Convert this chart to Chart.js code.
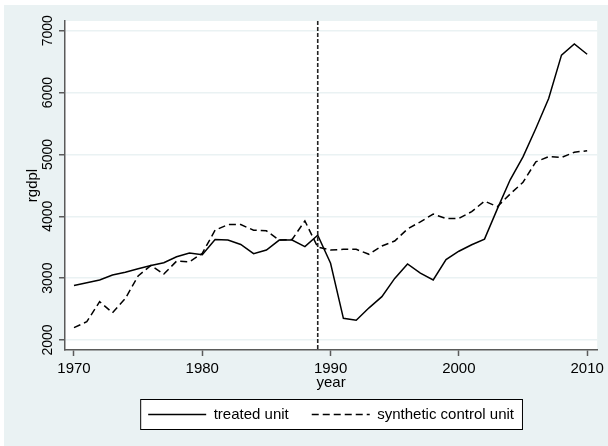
<!DOCTYPE html>
<html>
<head>
<meta charset="utf-8">
<script src="https://cdn.jsdelivr.net/npm/chart.js@4/dist/chart.umd.min.js"></script>
<style>
  html, body { margin: 0; padding: 0; background: #fff; }
  #wrap { width: 608px; height: 446px; }
</style>
</head>
<body>
<div id="wrap"><canvas id="c" width="608" height="446"></canvas></div>
<script>
// data
const years = [];
for (let y = 1970; y <= 2010; y++) years.push(y);

const treated = [2880, 2925, 2970, 3050, 3095, 3150, 3205, 3250, 3345, 3405,
  3380, 3625, 3615, 3545, 3395, 3455, 3615, 3615, 3510, 3695,
  3240, 2350, 2320, 2520, 2700, 2995, 3230, 3080, 2970, 3300,
  3435, 3540, 3630, 4120, 4590, 4960, 5420, 5905, 6605, 6785,
  6620];

const synthetic = [2200, 2295, 2620, 2440, 2670, 3035, 3205, 3065, 3275, 3265,
  3400, 3775, 3865, 3865, 3775, 3765, 3615, 3625, 3925, 3500,
  3455, 3465, 3465, 3385, 3520, 3600, 3795, 3910, 4035, 3965,
  3965, 4075, 4245, 4155, 4360, 4550, 4880, 4965, 4950, 5035,
  5060];

const xTicks = [1970, 1980, 1990, 2000, 2010];
const yTicks = [2000, 3000, 4000, 5000, 6000, 7000];
const treatYear = 1989;

const bg = '#eaf2f3';
const axisCol = '#5a5a5a';

Chart.defaults.font.family = '"Liberation Sans", Arial, sans-serif';
Chart.defaults.color = '#000';

// background, white plot region and the legend frame
const backdrop = {
  id: 'backdrop',
  beforeDraw(chart) {
    const ctx = chart.ctx, a = chart.chartArea;
    ctx.save();
    ctx.fillStyle = '#fff';
    ctx.fillRect(0, 0, chart.width, chart.height);
    ctx.fillStyle = bg;
    ctx.fillRect(4, 5, chart.width - 4, chart.height - 5);
    ctx.fillStyle = '#fff';
    ctx.fillRect(a.left, a.top, a.right - a.left, a.bottom - a.top);
    const hb = chart.legend.legendHitBoxes;
    if (hb && hb.length) {
      const last = hb[hb.length - 1];
      const l = hb[0].left - 8, r = last.left + last.width + 8;
      const t = hb[0].top - 8, b = hb[0].top + hb[0].height + 7;
      ctx.fillRect(l, t, r - l, b - t);
      ctx.strokeStyle = '#000';
      ctx.lineWidth = 1;
      ctx.strokeRect(l + 0.5, t + 0.5, r - l, b - t);
    }
    ctx.restore();
  }
};

// dashed vertical line at the treatment year
const treatLine = {
  id: 'treatLine',
  afterDatasetsDraw(chart) {
    const ctx = chart.ctx, a = chart.chartArea;
    const x = chart.scales.x.getPixelForValue(treatYear);
    ctx.save();
    ctx.strokeStyle = '#222';
    ctx.lineWidth = 1.6;
    ctx.setLineDash([4, 2]);
    ctx.beginPath();
    ctx.moveTo(x, a.top);
    ctx.lineTo(x, a.bottom);
    ctx.stroke();
    ctx.restore();
  }
};

new Chart(document.getElementById('c'), {
  type: 'line',
  data: {
    datasets: [
      {
        label: 'treated unit',
        data: years.map((yr, i) => ({ x: yr, y: treated[i] })),
        borderColor: '#000',
        borderWidth: 1.5,
        pointRadius: 0,
        tension: 0
      },
      {
        label: 'synthetic control unit',
        data: years.map((yr, i) => ({ x: yr, y: synthetic[i] })),
        borderColor: '#000',
        borderWidth: 1.5,
        borderDash: [7, 4],
        pointRadius: 0,
        tension: 0
      }
    ]
  },
  options: {
    responsive: false,
    animation: false,
    layout: { padding: { top: 21, right: 9, left: 0, bottom: 14 } },
    plugins: {
      tooltip: { enabled: false },
      legend: {
        position: 'bottom',
        fullSize: false,
        labels: {
          usePointStyle: true,
          pointStyle: 'line',
          pointStyleWidth: 58,
          padding: 23,
          color: '#000',
          font: { size: 15 },
          generateLabels: chart => chart.data.datasets.map((ds, i) => ({
            text: ds.label,
            datasetIndex: i,
            fillStyle: ds.borderColor,
            strokeStyle: ds.borderColor,
            lineWidth: ds.borderWidth,
            lineDash: ds.borderDash || [],
            pointStyle: 'line',
            hidden: false,
            fontColor: '#000'
          }))
        }
      }
    },
    scales: {
      x: {
        type: 'linear',
        min: 1969.3,
        max: 2010.78,
        afterBuildTicks: s => { s.ticks = xTicks.map(v => ({ value: v })); },
        afterFit: s => { s.height = 34; },
        ticks: { callback: v => String(v), font: { size: 15 }, padding: 4, color: '#000', maxRotation: 0 },
        grid: { drawOnChartArea: false, drawTicks: true, tickLength: 6, tickColor: axisCol, tickWidth: 1.5 },
        border: { color: axisCol, width: 1.5 },
        title: { display: true, text: 'year', font: { size: 15 }, color: '#000', padding: { top: 0, bottom: -8 } }
      },
      y: {
        min: 1838,
        max: 7157,
        afterBuildTicks: s => { s.ticks = yTicks.map(v => ({ value: v })); },
        afterFit: s => { s.width = 65; },
        ticks: { callback: v => String(v), font: { size: 14 }, padding: -5, color: '#000', minRotation: 90, maxRotation: 90, crossAlign: 'center' },
        grid: { color: bg, lineWidth: 1.5, drawTicks: true, tickLength: 6, tickColor: axisCol, tickWidth: 1.5 },
        border: { color: axisCol, width: 1.5 },
        title: { display: true, text: 'rgdpl', font: { size: 15 }, color: '#000', padding: { top: 24, bottom: 0 } }
      }
    }
  },
  plugins: [backdrop, treatLine]
});
</script>
</body>
</html>
